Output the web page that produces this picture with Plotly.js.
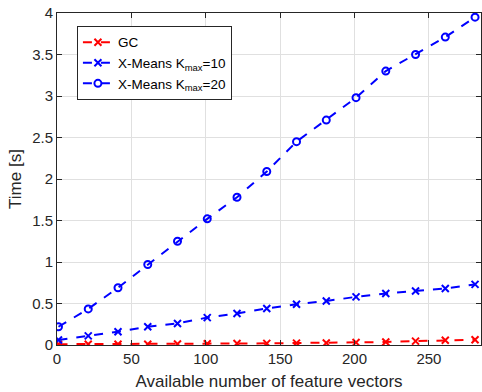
<!DOCTYPE html>
<html><head><meta charset="utf-8">
<script src="https://cdn.plot.ly/plotly-3.0.1.min.js"></script>
<style>body{margin:0;padding:0;background:#fff}#chart{width:482px;height:392px}</style>
</head><body><div id="chart"></div>
<script>
const xVals = [1, 21, 41, 61, 81, 101, 121, 141, 161, 181, 201, 221, 241, 261, 281];
const gcTime = [0.01, 0.01, 0.01, 0.01, 0.012, 0.015, 0.018, 0.02, 0.023, 0.025, 0.031, 0.036, 0.047, 0.058, 0.063];
const xm10Time = [0.06, 0.11, 0.16, 0.22, 0.26, 0.33, 0.38, 0.44, 0.49, 0.53, 0.58, 0.62, 0.65, 0.68, 0.73];
const xm20Time = [0.22, 0.435, 0.69, 0.97, 1.25, 1.52, 1.78, 2.09, 2.45, 2.71, 2.98, 3.30, 3.50, 3.71, 3.95];
const seriesNames = ['GC', 'X-Means K<sub>max</sub>=10', 'X-Means K<sub>max</sub>=20'];
const xTicks = [0, 50, 100, 150, 200, 250];
const yTicks = [0, 0.5, 1, 1.5, 2, 2.5, 3, 3.5, 4];

const FONT = 'Liberation Sans, Arial, sans-serif';

const traces = [
  {x: xVals, y: gcTime, name: seriesNames[0], mode: 'lines+markers',
   line: {color: '#ff0000', dash: 'dash', width: 2},
   marker: {symbol: 'x-thin-open', size: 7, line: {color: '#ff0000', width: 2}}},
  {x: xVals, y: xm10Time, name: seriesNames[1], mode: 'lines+markers',
   line: {color: '#0000ff', dash: 'dash', width: 2},
   marker: {symbol: 'x-thin-open', size: 7, line: {color: '#0000ff', width: 2}}},
  {x: xVals, y: xm20Time, name: seriesNames[2], mode: 'lines+markers',
   line: {color: '#0000ff', dash: 'dash', width: 2},
   marker: {symbol: 'circle-open', size: 7, color: '#0000ff', line: {color: '#0000ff', width: 2}}}
];

const axisCommon = {
  showline: true, linecolor: '#262626', linewidth: 1, mirror: 'ticks',
  ticks: 'inside', ticklen: 5, tickcolor: '#262626',
  showgrid: true, gridcolor: '#e0e0e0', gridwidth: 1, zeroline: false,
  tickfont: {family: FONT, size: 15, color: '#262626'}
};

const layout = {
  width: 482, height: 392,
  margin: {l: 57, r: 1, t: 13, b: 47},
  paper_bgcolor: '#fff', plot_bgcolor: '#fff',
  showlegend: true,
  legend: {x: 0.047, y: 0.961, xanchor: 'left', yanchor: 'top',
    bordercolor: '#262626', borderwidth: 1, bgcolor: '#fff',
    font: {family: FONT, size: 13.5, color: '#000'},
    itemwidth: 30, tracegroupgap: 0},
  xaxis: Object.assign({}, axisCommon, {range: [0, 285], tickvals: xTicks,
    title: {text: 'Available number of feature vectors', standoff: 9,
      font: {family: FONT, size: 17, color: '#262626'}}}),
  yaxis: Object.assign({}, axisCommon, {range: [0, 4], tickvals: yTicks,
    title: {text: 'Time [s]', standoff: 6,
      font: {family: FONT, size: 17, color: '#262626'}}})
};

Plotly.newPlot('chart', traces, layout, {displayModeBar: false, staticPlot: true});
</script></body></html>
